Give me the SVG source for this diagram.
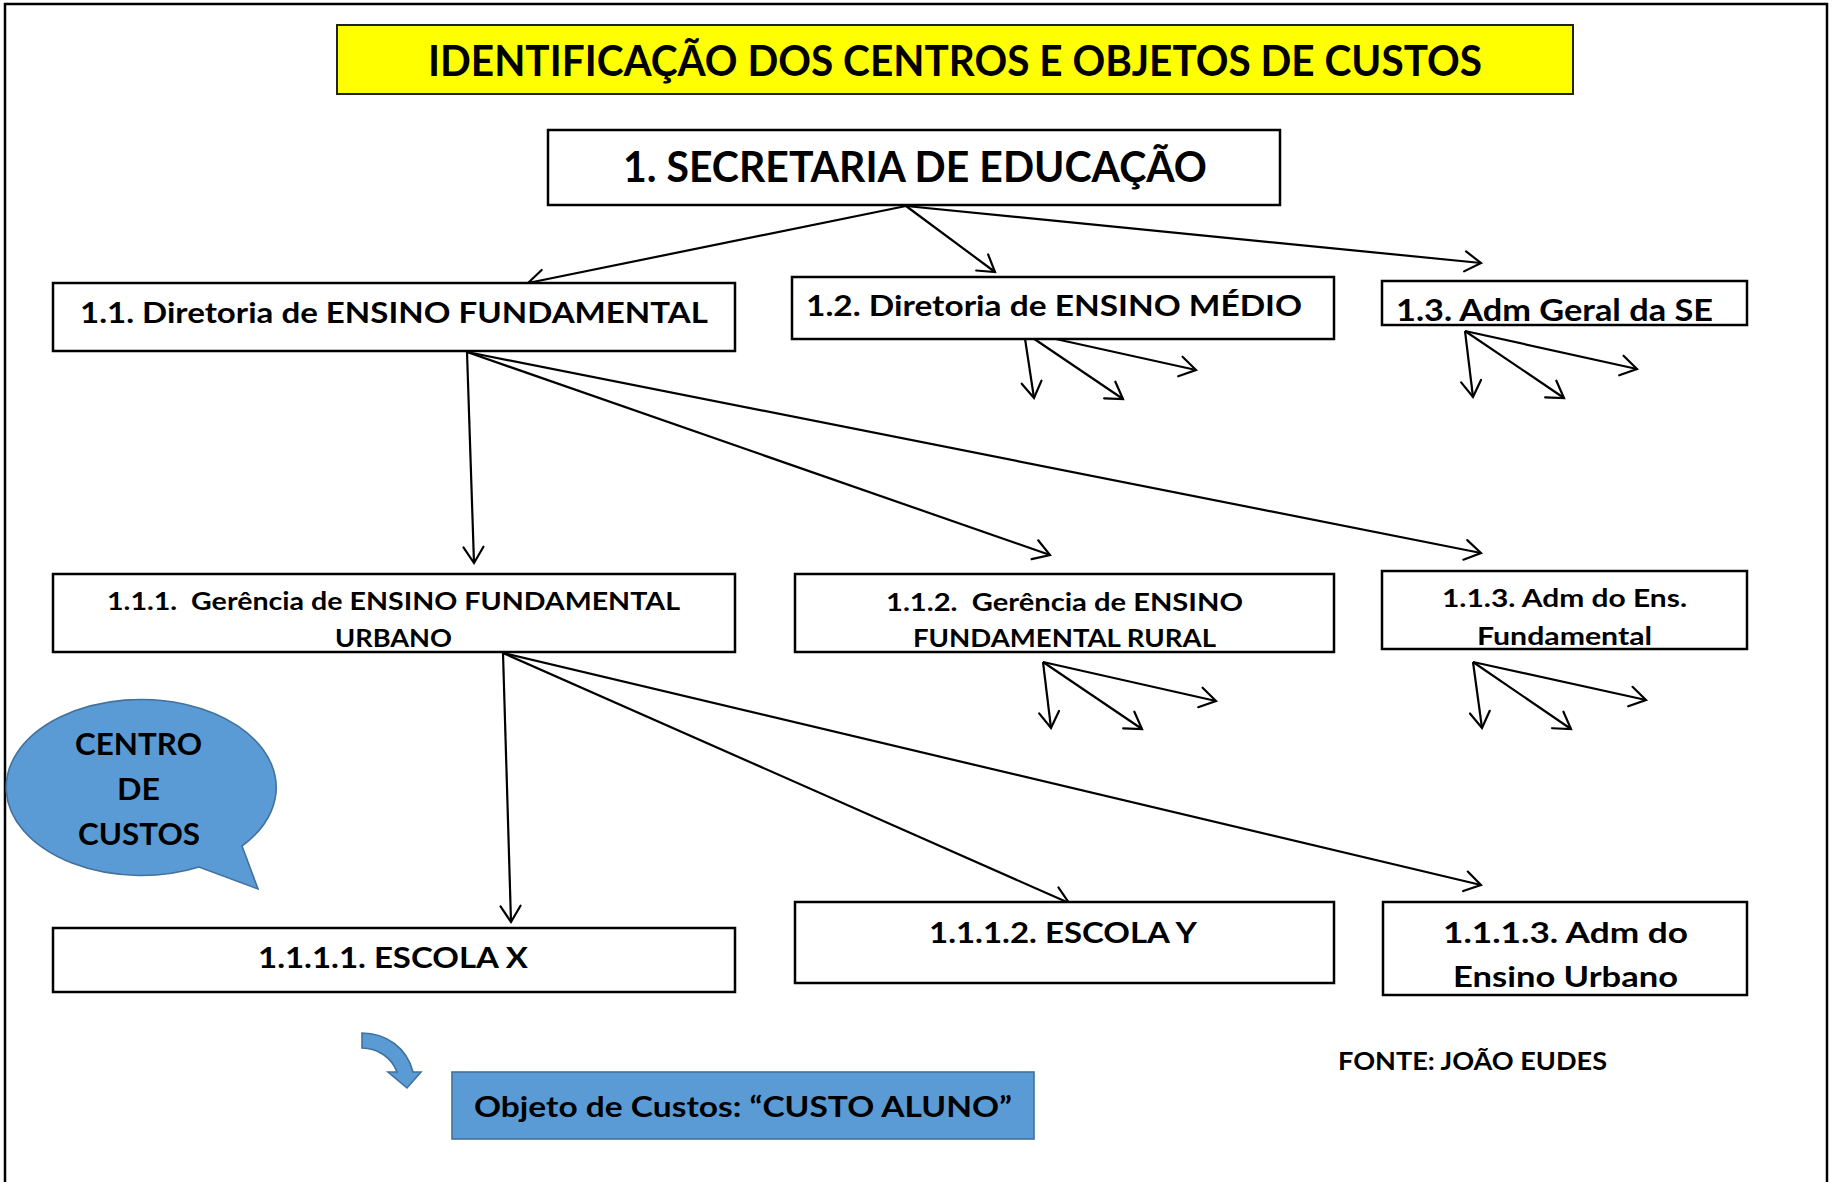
<svg xmlns="http://www.w3.org/2000/svg" width="1835" height="1182" viewBox="0 0 1835 1182">
<defs>
<marker id="arr" markerUnits="userSpaceOnUse" markerWidth="40" markerHeight="40" viewBox="-20 -20 40 40" refX="0" refY="0" orient="auto" overflow="visible">
<path d="M -16 -10 L 0 0 L -16 10" fill="none" stroke="#000" stroke-width="2.2" stroke-linecap="round" stroke-linejoin="miter"/>
</marker>
</defs>
<style>
.box{fill:#fff;stroke:#000;stroke-width:2.5}
.t{font-family:Lato,"Open Sans","Liberation Sans",sans-serif;font-weight:700;fill:#000}
.pre{white-space:pre}
.c{fill:none;stroke:#000;stroke-width:2.2;marker-end:url(#arr)}
.blue{fill:#5B9BD5;stroke:#41719C;stroke-width:1.6}
</style>
<rect x="0" y="0" width="1835" height="1182" fill="#fff"/>
<rect x="5" y="4" width="1822" height="1210" fill="none" stroke="#000" stroke-width="2.5"/>

<g id="title">
<rect x="337" y="25" width="1236" height="69" fill="#FFFF00" stroke="#222" stroke-width="2"/>
<text class="t" x="428" y="76" font-size="42" textLength="1054" lengthAdjust="spacingAndGlyphs">IDENTIFICAÇÃO DOS CENTROS E OBJETOS DE CUSTOS</text>
</g>

<g id="connectors">
<line class="c" x1="906" y1="206" x2="528" y2="283"/>
<line class="c" x1="906" y1="206" x2="995" y2="272"/>
<line class="c" x1="906" y1="206" x2="1481" y2="263"/>
<line class="c" x1="467" y1="352" x2="474" y2="563"/>
<line class="c" x1="467" y1="352" x2="1050" y2="555"/>
<line class="c" x1="467" y1="352" x2="1481" y2="553"/>
<line class="c" x1="503" y1="653" x2="511" y2="922"/>
<line class="c" x1="503" y1="653" x2="1069" y2="903"/>
<line class="c" x1="503" y1="653" x2="1481" y2="885"/>
<line class="c" x1="1024" y1="332" x2="1034" y2="398"/>
<line class="c" x1="1024" y1="332" x2="1123" y2="399"/>
<line class="c" x1="1024" y1="332" x2="1196" y2="370"/>
<line class="c" x1="1465" y1="331" x2="1473" y2="397"/>
<line class="c" x1="1465" y1="331" x2="1564" y2="398"/>
<line class="c" x1="1465" y1="331" x2="1637" y2="369"/>
<line class="c" x1="1043" y1="662" x2="1051" y2="728"/>
<line class="c" x1="1043" y1="662" x2="1142" y2="729"/>
<line class="c" x1="1043" y1="662" x2="1216" y2="701"/>
<line class="c" x1="1473" y1="662" x2="1482" y2="728"/>
<line class="c" x1="1473" y1="662" x2="1571" y2="729"/>
<line class="c" x1="1473" y1="662" x2="1646" y2="700"/>
</g>

<g id="n1">
<rect class="box" x="548" y="130" width="732" height="75"/>
<text class="t" x="623" y="182" font-size="42" textLength="584" lengthAdjust="spacingAndGlyphs">1. SECRETARIA DE EDUCAÇÃO</text>
</g>

<g id="n1_1">
<rect class="box" x="53" y="283" width="682" height="68"/>
<text class="t" x="80" y="323" font-size="28" textLength="628" lengthAdjust="spacingAndGlyphs">1.1. Diretoria de ENSINO FUNDAMENTAL</text>
</g>

<g id="n1_2">
<rect class="box" x="792" y="277" width="542" height="62"/>
<text class="t" x="806" y="316" font-size="28" textLength="496" lengthAdjust="spacingAndGlyphs">1.2. Diretoria de ENSINO MÉDIO</text>
</g>

<g id="n1_3">
<rect class="box" x="1382" y="281" width="365" height="44"/>
<text class="t" x="1396" y="321" font-size="31" textLength="317" lengthAdjust="spacingAndGlyphs">1.3. Adm Geral da SE</text>
</g>

<g id="n1_1_1">
<rect class="box" x="53" y="574" width="682" height="78"/>
<text class="t pre" x="107" y="610" font-size="25" textLength="573" lengthAdjust="spacingAndGlyphs">1.1.1.  Gerência de ENSINO FUNDAMENTAL</text>
<text class="t" x="335" y="647" font-size="25" textLength="117" lengthAdjust="spacingAndGlyphs">URBANO</text>
</g>

<g id="n1_1_2">
<rect class="box" x="795" y="574" width="539" height="78"/>
<text class="t pre" x="886" y="611" font-size="25" textLength="357" lengthAdjust="spacingAndGlyphs">1.1.2.  Gerência de ENSINO</text>
<text class="t" x="913" y="647" font-size="25" textLength="303" lengthAdjust="spacingAndGlyphs">FUNDAMENTAL RURAL</text>
</g>

<g id="n1_1_3">
<rect class="box" x="1382" y="571" width="365" height="78"/>
<text class="t" x="1442" y="607" font-size="25" textLength="245" lengthAdjust="spacingAndGlyphs">1.1.3. Adm do Ens.</text>
<text class="t" x="1477" y="645" font-size="25" textLength="175" lengthAdjust="spacingAndGlyphs">Fundamental</text>
</g>

<g id="n1_1_1_1">
<rect class="box" x="53" y="928" width="682" height="64"/>
<text class="t" x="258" y="968" font-size="29" textLength="270" lengthAdjust="spacingAndGlyphs">1.1.1.1. ESCOLA X</text>
</g>

<g id="n1_1_1_2">
<rect class="box" x="795" y="902" width="539" height="81"/>
<text class="t" x="929" y="943" font-size="29" textLength="268" lengthAdjust="spacingAndGlyphs">1.1.1.2. ESCOLA Y</text>
</g>

<g id="n1_1_1_3">
<rect class="box" x="1383" y="902" width="364" height="93"/>
<text class="t" x="1443" y="943" font-size="29" textLength="245" lengthAdjust="spacingAndGlyphs">1.1.1.3. Adm do</text>
<text class="t" x="1453" y="987" font-size="29" textLength="225" lengthAdjust="spacingAndGlyphs">Ensino Urbano</text>
</g>

<g id="centro_custos">
<path class="blue" d="M242,846 L258,889 L199,867 A135,88 0 1 1 242,846 Z"/>
<text class="t" x="75" y="755" font-size="31" textLength="127" lengthAdjust="spacingAndGlyphs">CENTRO</text>
<text class="t" x="117" y="800" font-size="31" textLength="43" lengthAdjust="spacingAndGlyphs">DE</text>
<text class="t" x="78" y="845" font-size="31" textLength="122" lengthAdjust="spacingAndGlyphs">CUSTOS</text>
</g>

<g id="curved_arrow">
<path class="blue" d="M362,1033 C386,1033 407,1048 413,1072 L421,1072 L407,1088 L388,1072 L397,1072 C392,1058 378,1048 362,1048 Z"/>
</g>

<g id="objeto">
<rect class="blue" x="452" y="1072" width="582" height="67"/>
<text class="t" x="474" y="1117" font-size="29" textLength="538" lengthAdjust="spacingAndGlyphs">Objeto de Custos: “CUSTO ALUNO”</text>
</g>

<g id="fonte">
<text class="t" x="1338" y="1070" font-size="25" textLength="269" lengthAdjust="spacingAndGlyphs">FONTE: JOÃO EUDES</text>
</g>
</svg>
